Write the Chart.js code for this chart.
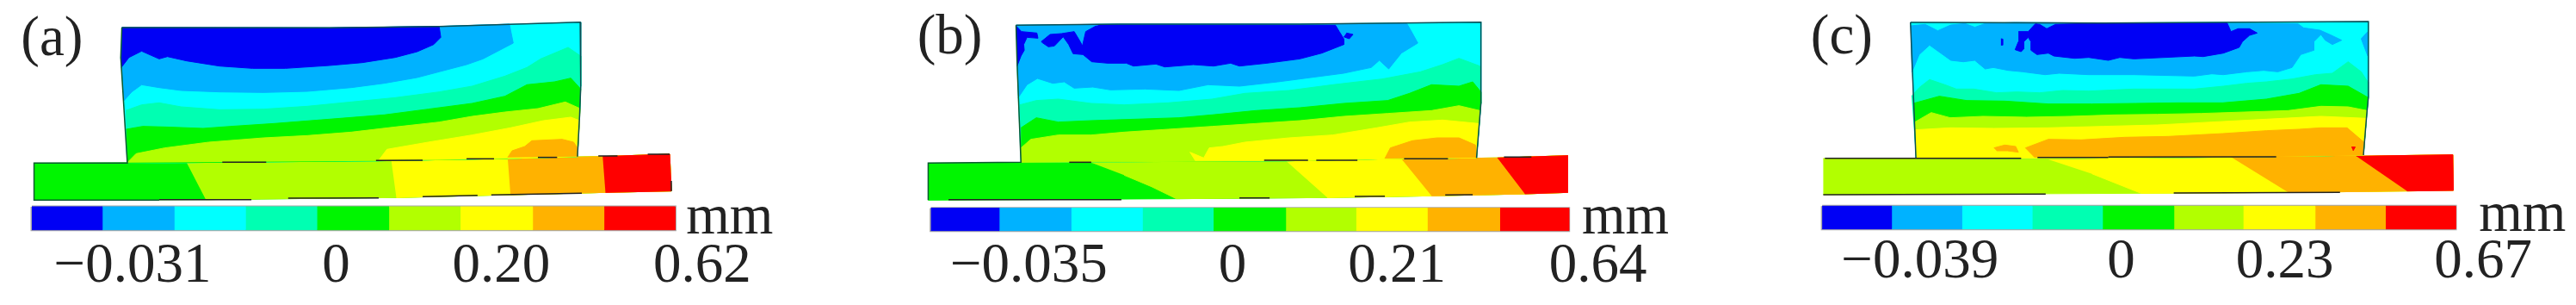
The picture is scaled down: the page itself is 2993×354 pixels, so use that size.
<!DOCTYPE html>
<html>
<head>
<meta charset="utf-8">
<title>Displacement contours</title>
<script src="https://cdn.jsdelivr.net/npm/chart.js@4"></script>
<style>
  html, body { margin: 0; background: #fff; overflow: hidden; }
  canvas { position: absolute; top: 0; filter: blur(0.7px); }
</style>
</head>
<body>
<canvas id="panel_a" width="1000" height="354" style="left:0"></canvas>
<canvas id="panel_b" width="1000" height="354" style="left:1000px"></canvas>
<canvas id="panel_c" width="993" height="354" style="left:2000px"></canvas>
<script>
// contour colours, low to high
const blue = '#0000f5', sky = '#00b2ff', cyan = '#00ffff', teal = '#00ffb2', green = '#00f500';
const lime = '#b2ff00', yellow = '#ffff00', orange = '#ffb200', red = '#ff0000';
const barColours = [blue, sky, cyan, teal, green, lime, yellow, orange, red];

// panel (a), digitised x,y pairs
const aBlock = [222,96,600,97,800,92,1057,77,1058,300,1056,400,1052,545,925,552,690,560,232,568,226,350,220,200];
const aSky = [222,96,600,97,800,92,928,84,935,150,905,180,880,205,850,225,800,250,760,270,700,290,640,305,560,318,480,322,400,320,330,315,290,305,258,295,240,320,226,350,221,200];
const aBlue = [222,96,600,97,800,92,803,130,790,155,760,180,720,200,660,218,600,228,520,238,460,238,400,230,340,212,305,197,290,205,258,178,235,200,221,235];
const aTeal = [229,385,258,365,290,358,330,372,400,382,480,380,560,370,640,355,720,340,800,320,860,300,920,265,960,235,985,205,1035,165,1058,195,1058,300,1056,400,1052,545,925,552,690,560,232,568];
const aGreen = [230,450,260,440,300,442,370,447,420,440,500,430,600,415,700,400,780,380,860,360,920,335,960,295,1010,285,1040,272,1058,310,1056,400,1052,545,925,552,690,560,232,568];
const aLime = [232,566,248,535,300,515,380,495,480,480,560,472,640,460,720,442,800,425,860,405,920,390,980,378,1030,355,1057,378,1052,545,925,552,690,560];
const aYellow = [690,558,705,520,780,495,860,470,930,445,990,420,1040,408,1056,420,1052,545,925,552];
const aOrange = [925,548,933,525,956,510,969,490,1024,485,1045,495,1052,515,1052,545];
const aPlate = [62,568,340,566,713,560,925,552,1098,545,1220,537,1223,665,1103,670,930,678,722,688,375,695,62,697];
const aPlateLime = [340,566,713,560,925,552,1098,545,1220,537,1223,665,1103,670,930,678,722,688,375,695];
const aPlateYellow = [713,560,925,552,1098,545,1220,537,1223,665,1103,670,930,678,722,688];
const aPlateOrange = [925,552,1098,545,1220,537,1223,665,1103,670,930,678];
const aPlateRed = [1098,545,1220,537,1223,665,1103,670];
const aDashes = [405,565,485,565,685,559,770,558,850,553,900,553,980,548,1015,548,1090,543,1125,543,1180,537,1220,537,290,695,458,695,525,690,690,689,770,685,870,680,895,679,1060,673,1223,630,1223,665];
const aBarEdges = [58,187,318,448,578,709,839,971,1101,1230];
const aBarSpan = [720,800];
const aTicks = ['\u22120.031','0','0.20','0.62'];
const aTickX = [98,587,824,1190];
const aTickY = 980;
const aUnit = [1250,812];
const aTag = ['(a)',38,192];

// panel (b)
const bBlock = [283,88,470,84,800,84,1130,77,1130,360,1122,550,955,553,780,560,292,565,285,220];
const bSky = [283,88,470,84,800,84,995,82,1005,115,1015,150,985,185,962,240,945,210,930,235,880,255,820,270,760,285,690,300,633,295,580,315,518,310,455,313,423,303,389,307,371,285,350,290,322,273,303,295,287,340];
const bBlue = [434,87,865,88,872,110,880,135,880,155,840,185,800,205,740,220,690,230,674,220,643,230,606,225,554,233,538,223,497,230,484,220,450,220,421,215,405,190,387,187,379,155,369,128,353,160,342,163,332,150,329,145,345,120,366,117,389,110,400,145,404,160,410,110,429,90];
const bBlueLeft = [283,90,293,110,321,115,323,133,303,130,297,155,298,175,292,195,285,230];
const bBlueDot = [885,115,897,120,890,135,880,128];
const bTeal = [290,365,320,350,360,345,420,360,480,365,560,358,640,345,700,325,780,315,860,295,950,275,1020,250,1060,225,1090,203,1128,230,1130,360,1122,550,955,553,780,560,292,565];
const bGreen = [292,445,320,410,360,425,420,420,500,415,580,410,640,400,720,385,800,375,880,360,960,350,1000,325,1040,295,1090,300,1115,285,1130,320,1130,360,1122,550,955,553,780,560,292,565];
const bLime = [292,515,310,485,360,470,420,470,480,460,560,450,640,440,720,430,800,420,880,405,960,395,1040,385,1090,368,1128,385,1122,550,955,553,780,560,292,565];
const bYellow = [610,560,600,530,625,550,635,515,660,510,700,495,780,480,860,470,940,445,1000,425,1060,418,1125,430,1122,550,955,553,780,560];
const bOrange = [955,552,965,515,1005,490,1050,480,1090,480,1120,505,1122,550];
const bPlate = [123,568,420,566,775,560,985,553,1160,550,1288,542,1288,670,1210,675,1040,682,850,688,575,692,123,697];
const bPlateLime = [420,566,775,560,985,553,1160,550,1288,542,1288,670,1210,675,1040,682,850,688,575,692,530,650,480,610];
const bPlateYellow = [775,560,985,553,1160,550,1288,542,1288,670,1210,675,1040,682,850,688];
const bPlateOrange = [985,553,1160,550,1288,542,1288,670,1210,675,1040,682];
const bPlateRed = [1160,550,1288,542,1288,670,1210,675];
const bDashes = [380,565,420,565,735,558,815,558,830,558,905,558,990,553,1070,553,1172,547,1222,547,160,695,475,695,690,689,745,689,900,684,955,683,1065,679,1115,678];
const bBarEdges = [128,253,384,514,643,775,903,1033,1165,1290];
const bBarSpan = [725,803];
const bTicks = ['\u22120.035','0','0.21','0.64'];
const bTickX = [163,652,888,1254];
const bTickY = 980;
const bUnit = [1314,812];
const bTag = ['(b)',103,185];

// panel (c)
const cBlock = [347,78,700,80,1187,75,1187,340,1184,400,1178,540,935,547,595,552,357,550,350,220];
const cSky = [347,90,374,85,397,107,421,87,447,82,465,95,484,82,539,78,700,80,1058,83,1068,97,1098,105,1116,120,1138,140,1121,155,1108,140,1100,120,1087,145,1087,175,1063,190,1047,235,1021,250,995,245,964,250,921,260,900,257,868,265,757,260,695,260,674,260,620,255,594,260,553,250,526,245,499,235,484,240,465,210,444,215,421,210,382,157,363,190,352,240,349,250];
const cSliver = [1186,110,1174,135,1186,195];
const cBlue = [545,110,563,110,576,83,584,85,597,100,613,85,700,80,928,80,935,110,948,100,969,100,983,115,969,123,956,145,950,165,921,185,884,197,868,195,757,205,731,200,710,210,674,200,648,203,610,195,600,185,579,190,568,175,568,145,563,130,555,145,555,170,550,180,539,173,545,145];
const cBlueDot = [513,135,516,136,516,157,513,157];
const cTeal = [349,335,363,305,382,277,410,295,431,310,463,310,505,323,542,320,584,323,626,315,674,317,757,310,868,310,921,300,964,290,1000,285,1047,275,1090,260,1121,255,1150,215,1174,250,1186,285,1187,340,1184,400,1178,540,935,547,595,552,357,550];
const cGreen = [352,360,400,335,450,350,520,352,600,362,680,362,760,360,840,358,920,358,1000,345,1060,325,1100,295,1150,300,1187,340,1184,400,1178,540,935,547,595,552,357,550];
const cLime = [355,425,385,392,420,410,480,405,560,408,640,405,720,400,800,398,880,395,960,390,1040,385,1100,370,1150,372,1185,385,1184,400,1178,540,935,547,595,552,357,550];
const cYellow = [356,452,420,445,500,447,600,445,700,440,800,435,900,425,1000,415,1100,405,1183,412,1178,540,935,547,595,552,357,550];
const cOrange = [575,548,558,515,600,485,660,487,740,478,820,475,920,465,1000,455,1060,450,1100,445,1148,445,1179,495,1178,540,935,547];
const cOrangeSpot = [500,515,520,505,540,510,545,530,525,525,505,525];
const cRedSpeck = [1156,512,1163,512,1159,525];
const cPlate = [187,552,595,552,935,547,1165,544,1342,539,1343,663,1258,665,1040,670,770,673,187,678];
const cPlateYellow = [595,552,935,547,1165,544,1342,539,1343,663,1258,665,1040,670,770,673,680,605];
const cPlateOrange = [935,547,1165,544,1342,539,1343,663,1258,665,1040,670];
const cPlateRed = [1165,544,1342,539,1343,663,1258,665];
const cDashes = [190,551,550,551,580,548,710,548,710,547,1018,546,187,678,595,676,830,672,1135,670];
const cBarEdges = [185,313,442,571,700,831,958,1090,1219,1347];
const cBarSpan = [718,797];
const cTicks = ['\u22120.039','0','0.23','0.67'];
const cTickX = [220,708,944,1308];
const cTickY = 965;
const cUnit = [1390,803];
const cTag = ['(c)',164,185];

function toPoints(flat) {
  const pts = [];
  for (let i = 0; i < flat.length; i += 2) pts.push({x: flat[i], y: flat[i + 1]});
  return pts;
}

// one filled contour region
function region(flat, colour) {
  return {
    data: toPoints(flat),
    showLine: true,
    fill: 'shape',
    backgroundColor: colour,
    borderColor: colour,
    borderWidth: 1,
    pointRadius: 0
  };
}

function stroke(flat, colour, width) {
  return {
    data: toPoints(flat),
    showLine: true,
    fill: false,
    borderColor: colour,
    borderWidth: width,
    pointRadius: 0
  };
}

function dashes(flat) {
  const out = [];
  for (let i = 0; i < flat.length; i += 4) out.push(stroke(flat.slice(i, i + 4), '#222', 1.5));
  return out;
}

function colourBar(edges, span) {
  const out = [];
  out.push(stroke([edges[0], span[0], edges[9], span[0], edges[9], span[1], edges[0], span[1], edges[0], span[0]], '#a8a8a8', 3));
  barColours.forEach(function (c, i) {
    out.push(region([edges[i], span[0], edges[i + 1], span[0], edges[i + 1], span[1], edges[i], span[1]], c));
  });
  return out;
}

function labelPlugin(ticks, tickX, tickY, unit, tag) {
  return {
    id: 'panelLabels',
    afterDraw(chart) {
      const ctx = chart.ctx, sx = chart.scales.x, sy = chart.scales.y;
      ctx.save();
      ctx.fillStyle = '#222';
      ctx.font = '65px "Liberation Serif", serif';
      ctx.textBaseline = 'alphabetic';
      ticks.forEach(function (t, i) {
        ctx.fillText(t, sx.getPixelForValue(tickX[i]), sy.getPixelForValue(tickY));
      });
      ctx.fillText('mm', sx.getPixelForValue(unit[0]), sy.getPixelForValue(unit[1]));
      ctx.fillText(tag[0], sx.getPixelForValue(tag[1]), sy.getPixelForValue(tag[2]));
      ctx.restore();
    }
  };
}

function drawPanel(id, layers, ticks, tickX, tickY, unit, tag) {
  // first layer is painted first
  const datasets = layers.map(function (d, i) {
    d.order = layers.length - i;
    return d;
  });
  return new Chart(document.getElementById(id), {
    type: 'scatter',
    data: {datasets: datasets},
    options: {
      responsive: false,
      animation: false,
      events: [],
      layout: {padding: 0},
      elements: {line: {tension: 0}},
      plugins: {legend: {display: false}, tooltip: {enabled: false}},
      scales: {
        x: {type: 'linear', display: false, min: 0, max: 1568},
        y: {type: 'linear', display: false, reverse: true, min: 0, max: 1062}
      }
    },
    plugins: [labelPlugin(ticks, tickX, tickY, unit, tag)]
  });
}

drawPanel('panel_a', [
  region(aPlate, green), region(aPlateLime, lime), region(aPlateYellow, yellow), region(aPlateOrange, orange), region(aPlateRed, red),
  region(aBlock, cyan), region(aSky, sky), region(aBlue, blue), region(aTeal, teal), region(aGreen, green),
  region(aLime, lime), region(aYellow, yellow), region(aOrange, orange),
  stroke(aBlock.slice(0, 14), '#0b4f55', 1.5), stroke([222,96,220,200,232,568,62,568,62,697,290,697], '#0b5a30', 1.5)
].concat(dashes(aDashes), colourBar(aBarEdges, aBarSpan)), aTicks, aTickX, aTickY, aUnit, aTag);

drawPanel('panel_b', [
  region(bPlate, green), region(bPlateLime, lime), region(bPlateYellow, yellow), region(bPlateOrange, orange), region(bPlateRed, red),
  region(bBlock, cyan), region(bSky, sky), region(bBlue, blue), region(bBlueLeft, blue), region(bBlueDot, blue),
  region(bTeal, teal), region(bGreen, green), region(bLime, lime), region(bYellow, yellow), region(bOrange, orange),
  stroke(bBlock.slice(0, 12), '#0b4f55', 1.5), stroke([283,88,285,220,292,565,123,568,123,697], '#0b5a30', 1.5)
].concat(dashes(bDashes), colourBar(bBarEdges, bBarSpan)), bTicks, bTickX, bTickY, bUnit, bTag);

drawPanel('panel_c', [
  region(cPlate, lime), region(cPlateYellow, yellow), region(cPlateOrange, orange), region(cPlateRed, red),
  region(cBlock, cyan), region(cSliver, sky), region(cSky, sky), region(cBlue, blue), region(cBlueDot, blue),
  region(cTeal, teal), region(cGreen, green), region(cLime, lime), region(cYellow, yellow), region(cOrange, orange),
  region(cOrangeSpot, orange), region(cRedSpeck, red),
  stroke(cBlock.slice(0, 12), '#0b4f55', 1.5), stroke([347,78,350,220,357,550], '#0b4f55', 1.5)
].concat(dashes(cDashes), colourBar(cBarEdges, cBarSpan)), cTicks, cTickX, cTickY, cUnit, cTag);
</script>
</body>
</html>
